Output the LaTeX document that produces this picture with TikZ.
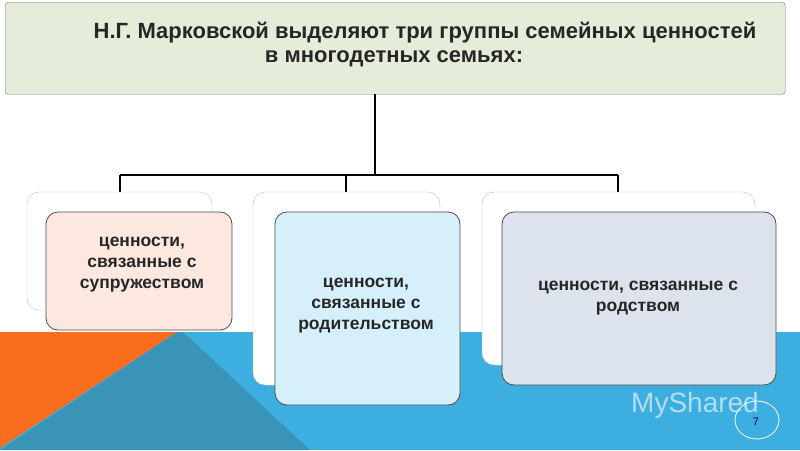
\documentclass[tikz,border=0pt]{standalone}
\usepackage{fontspec}
\setmainfont{Liberation Sans}
\begin{document}
\begin{tikzpicture}[x=1pt,y=-1pt,
  back/.style={draw=gray!50,fill=white,rounded corners=12pt},
  front/.style={draw=black!70,rounded corners=12pt,line width=0.8pt},
  lbl/.style={font=\bfseries\fontsize{17.5}{21}\selectfont,align=center,text=black!85},
  ttl/.style={font=\bfseries\fontsize{22}{25}\selectfont,text=black!85},
  conn/.style={line width=1.3pt,black}]
\useasboundingbox (0,0) rectangle (800,450);
\fill[white] (0,0) rectangle (800,450);
\definecolor{lb}{HTML}{3DAEE0}\definecolor{db}{HTML}{3A94B8}\definecolor{orn}{HTML}{F96D1E}
\definecolor{ban}{HTML}{E6ECDA}
\fill[lb] (0,332) rectangle (800,450);
\fill[orn] (0,332) -- (177,332) -- (0,448) -- cycle;
\fill[db] (177,332) -- (183,332) -- (310,450) -- (0,450) -- cycle;
% banner
\node[draw=black!55,fill=ban,rounded corners=3pt,minimum width=780pt,minimum height=92pt,anchor=north west,inner sep=0pt] (top) at (5,2) {};
\node[ttl] (t1) at (425,33) {Н.Г. Марковской выделяют три группы семейных ценностей};
\node[ttl] (t2) at (394,59) {в многодетных семьях:};
\coordinate (j) at (375,175);
\coordinate (l) at (120,175);\coordinate (m) at (346,175);\coordinate (r) at (618,175);
\draw[conn] (375,94) -- (j);
\draw[conn] (l) -- (r);
\draw[conn] (l) -- (120,192); \draw[conn] (m) -- (346,192); \draw[conn] (r) -- (618,192);
% boxes
\draw[back] (27,192) rectangle (212,310);
\draw[front,fill={rgb,255:red,253;green,232;blue,224}] (46,212) rectangle (232,330);
\node[lbl] (a) at (142,265) {ценности,\\связанные с\\супружеством};
\draw[back] (253,192) rectangle (440,385);
\draw[front,fill={rgb,255:red,214;green,240;blue,251}] (275,212) rectangle (460,405);
\node[lbl] (b) at (366,306) {ценности,\\связанные с\\родительством};
\draw[back] (482,192) rectangle (755,365);
\draw[front,fill={rgb,255:red,221;green,227;blue,236}] (502,212) rectangle (776,385);
\node[lbl] (c) at (638,298) {ценности, связанные с\\родством};
% watermark
\node[text=white,opacity=0.6,font=\fontsize{28}{30}\selectfont] (w) at (695,405) {MyShared};
\draw[white,line width=0.8pt] (757,420) ellipse (22pt and 19pt);
\node[text=blue!40!black,font=\fontsize{11}{12}\selectfont] (p) at (756,422) {7};
\end{tikzpicture}
\end{document}
